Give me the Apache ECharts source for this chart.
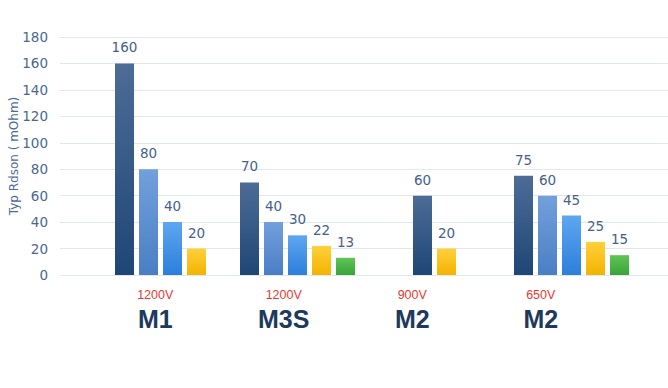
<!DOCTYPE html>
<html>
<head>
<meta charset="utf-8">
<script src="https://cdn.jsdelivr.net/npm/echarts@6/dist/echarts.min.js"></script>
<style>html,body{margin:0;padding:0;background:#fff;}#c{width:668px;height:388px;}</style>
</head>
<body>
<div id="c"></div>
<script>
var categories = ['M1', 'M3S', 'M2', 'M2'];
var voltages = ['1200V', '1200V', '900V', '650V'];
var yTicks = [0, 20, 40, 60, 80, 100, 120, 140, 160, 180];
var gen1 = [160, 70, 60, 75];
var gen2 = [80, 40, null, 60];
var gen3 = [40, 30, null, 45];
var gen4 = [20, 22, 20, 25];
var gen5 = [null, 13, null, 15];
var seriesValues = [gen1, gen2, gen3, gen4, gen5];

var palette = [
  ['#4d6c97', '#1e4675'],
  ['#72a0dc', '#4a7ec4'],
  ['#5ea6f0', '#2c7fdc'],
  ['#ffd03a', '#f3b300'],
  ['#62c456', '#37a43a']
];

var slotInfo = categories.map(function (c, ci) {
  var present = [];
  seriesValues.forEach(function (arr, si) { if (arr[ci] != null) present.push(si); });
  return present;
});

var FONT = 'DejaVu Sans';
var PITCH = 24, BARW = 19;

function makeSeries(si) {
  var data = [];
  seriesValues[si].forEach(function (v, ci) {
    if (v == null) return;
    var present = slotInfo[ci];
    data.push([ci, v, present.indexOf(si), present.length]);
  });
  return {
    type: 'custom',
    xAxisIndex: 1,
    yAxisIndex: 1,
    data: data,
    renderItem: function (params, api) {
      var ci = api.value(0), v = api.value(1), slot = api.value(2), n = api.value(3);
      var top = api.coord([ci, v]);
      var base = api.coord([ci, 0]);
      var cx = top[0] + (slot - (n - 1) / 2) * PITCH;
      return {
        type: 'rect',
        shape: { x: cx - BARW / 2, y: top[1], width: BARW, height: base[1] - top[1] },
        style: {
          fill: new echarts.graphic.LinearGradient(0, 0, 0, 1, [
            { offset: 0, color: palette[si][0] },
            { offset: 1, color: palette[si][1] }
          ])
        },
        textContent: {
          style: { text: String(v), fill: '#46618a', font: '13.5px "' + FONT + '"' }
        },
        textConfig: { position: 'top', distance: 9 }
      };
    }
  };
}

var chart = echarts.init(document.getElementById('c'), null, { renderer: 'svg' });
chart.setOption({
  animation: false,
  backgroundColor: '#ffffff',
  grid: [
    { left: 60, right: 0, top: 37, bottom: 113, containLabel: false, outerBoundsMode: 'none' },
    { left: 92, right: 28, top: 37, bottom: 113, containLabel: false, outerBoundsMode: 'none' },
    { left: 91, right: 63, top: 37, bottom: 113, containLabel: false, outerBoundsMode: 'none' }
  ],
  xAxis: [
    { gridIndex: 0, type: 'category', data: categories, show: false },
    { gridIndex: 1, type: 'category', data: categories, show: false },
    {
      gridIndex: 2, type: 'category', data: categories,
      axisLine: { show: false }, axisTick: { show: false },
      axisLabel: {
        margin: 11,
        formatter: function (val, idx) {
          return '{v|' + voltages[idx] + '}\n{n|' + val + '}';
        },
        rich: {
          v: { color: '#e8392f', fontFamily: 'Liberation Sans', fontSize: 12.5, lineHeight: 18 },
          n: { color: '#1d3a5c', fontFamily: 'Liberation Sans', fontWeight: 'bold', fontSize: 25, lineHeight: 30 }
        }
      }
    }
  ],
  yAxis: [
    {
      gridIndex: 0, type: 'value', min: 0, max: 180, interval: 20,
      name: 'Typ Rdson ( mOhm)', nameLocation: 'middle', nameGap: 40, nameRotate: 90,
      nameMoveOverlap: false,
      nameTextStyle: { color: '#4d6b95', fontFamily: FONT, fontSize: 12 },
      axisLine: { show: false }, axisTick: { show: false },
      axisLabel: { color: '#4a6892', fontFamily: FONT, fontSize: 13.5, margin: 12 },
      splitLine: { show: true, lineStyle: { color: '#dfe7f0', width: 1 } }
    },
    { gridIndex: 1, type: 'value', min: 0, max: 180, interval: 20, show: false, splitLine: { show: false } },
    { gridIndex: 2, type: 'value', min: 0, max: 180, interval: 20, show: false, splitLine: { show: false } }
  ],
  series: [0, 1, 2, 3, 4].map(makeSeries)
});
</script>
</body>
</html>
